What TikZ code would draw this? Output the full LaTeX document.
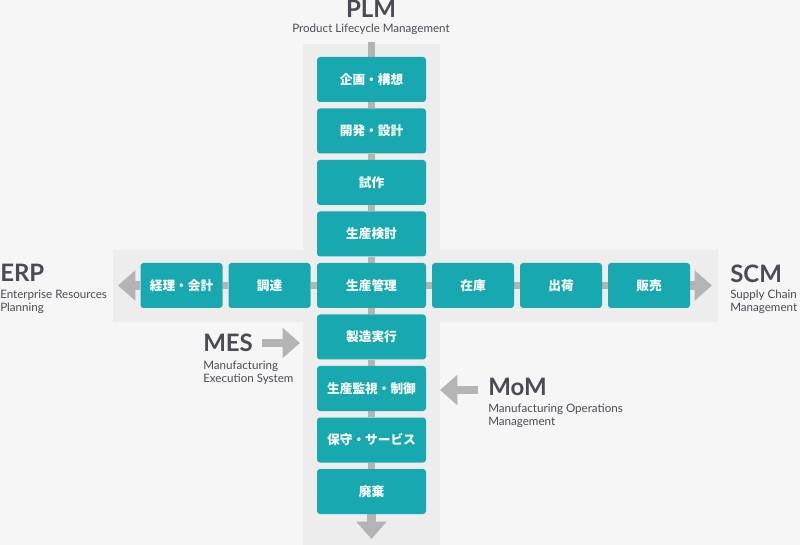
\documentclass[tikz,border=0pt]{standalone}
\usepackage{fontspec}
\setmainfont{Lato}
\newfontfamily\jp{Noto Sans CJK JP}
\usetikzlibrary{arrows.meta}
\definecolor{boxc}{HTML}{17A8B0}
\definecolor{txt}{HTML}{4B4B55}
\definecolor{linkgray}{HTML}{B4B4B4}
\definecolor{bgc}{HTML}{F6F6F6}
\definecolor{panel}{HTML}{EDEDED}
\pgfdeclarelayer{back}
\pgfdeclarelayer{bg}
\pgfsetlayers{back,bg,main}
\begin{document}
\begin{tikzpicture}[x=0.75pt,y=-0.75pt,
  box/.style={fill=boxc, rounded corners=2.25pt, text=white,
    font=\jp\bfseries\fontsize{9.5pt}{11pt}\selectfont, inner sep=0pt, minimum height=33.75pt},
  vbox/.style={box, minimum width=81.75pt},
  hbox/.style={box, minimum width=61.5pt},
  link/.style={draw=linkgray, line width=5.5pt},
  bigarrow/.style={draw=linkgray, line width=6.5pt, -{Triangle[width=22pt,length=13pt]}},
  title/.style={text=txt, font=\bfseries\fontsize{18pt}{20pt}\selectfont, inner sep=0pt},
  sub/.style={text=txt, font=\fontsize{8.7pt}{9.75pt}\selectfont, inner sep=0pt, align=left},
]
\useasboundingbox (0,0) rectangle (800,545);
\begin{pgfonlayer}{back}
\fill[bgc] (0,0) rectangle (800,545);
\fill[panel] (303,44) rectangle (440,545);
\fill[panel] (113,250) rectangle (718,322);
\end{pgfonlayer}

% vertical column
\node[vbox] (v1) at (371.5,79.5) {企画・構想};
\node[vbox] (v2) at (371.5,131) {開発・設計};
\node[vbox] (v3) at (371.5,182.5) {試作};
\node[vbox] (v4) at (371.5,234) {生産検討};
\node[vbox] (v5) at (371.5,285.5) {生産管理};
\node[vbox] (v6) at (371.5,337) {製造実行};
\node[vbox] (v7) at (371.5,388.5) {生産監視・制御};
\node[vbox] (v8) at (371.5,440) {保守・サービス};
\node[vbox] (v9) at (371.5,491.5) {廃棄};

% horizontal row
\node[hbox] (h1) at (181.5,285.5) {経理・会計};
\node[hbox] (h2) at (269.5,285.5) {調達};
\node[hbox] (h3) at (473,285.5) {在庫};
\node[hbox] (h4) at (561,285.5) {出荷};
\node[hbox] (h5) at (649,285.5) {販売};

\coordinate (plmtop) at (371.5,42);
\coordinate (vend) at (371.5,539);
\coordinate (erpend) at (118,285.5);
\coordinate (scmend) at (712,285.5);
\coordinate (messtart) at (262,343);
\coordinate (mesend) at (300,343);
\coordinate (momstart) at (478,390);
\coordinate (momend) at (440,390);

\begin{pgfonlayer}{bg}
\draw[link] (plmtop) -- (v1) -- (v2) -- (v3) -- (v4) -- (v5) -- (v6) -- (v7) -- (v8) -- (v9);
\draw[bigarrow] (v9.south) -- (vend);
\draw[link] (h1) -- (h2) -- (v5) -- (h3) -- (h4) -- (h5);
\draw[bigarrow] (h1.west) -- (erpend);
\draw[bigarrow] (h5.east) -- (scmend);
\end{pgfonlayer}
\draw[bigarrow] (messtart) -- (mesend);
\draw[bigarrow] (momstart) -- (momend);

% labels
\node[title, anchor=base] (plm) at (371,18) {PLM};
\node[sub, anchor=base] (plmsub) at (371,33) {Product Lifecycle Management};
\node[title, anchor=base west] (erp) at (0,282) {ERP};
\node[sub, anchor=north west] (erpsub) at (0,290) {Enterprise Resources\\Planning};
\node[title, anchor=base west] (scm) at (730,283) {SCM};
\node[sub, anchor=north west] (scmsub) at (730,290) {Supply Chain\\Management};
\node[title, anchor=base west] (mes) at (203,352) {MES};
\node[sub, anchor=north west] (messub) at (203,361) {Manufacturing\\Execution System};
\node[title, anchor=base west] (mom) at (488,395) {MoM};
\node[sub, anchor=north west] (momsub) at (488,404) {Manufacturing Operations\\Management};
\end{tikzpicture}
\end{document}
